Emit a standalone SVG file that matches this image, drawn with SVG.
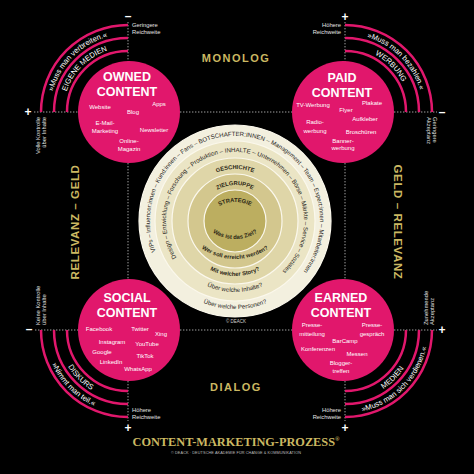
<svg xmlns="http://www.w3.org/2000/svg" width="474" height="474" viewBox="0 0 474 474">
<defs>
<style>
text{font-family:"Liberation Sans",Arial,sans-serif}
text.serif{font-family:"Liberation Serif","Times New Roman",serif}
.pink{fill:#e1176c}
.arc{fill:none;stroke:#e1176c;stroke-width:2.5}
.dot{fill:none;stroke:#a0a0a0;stroke-width:1;stroke-dasharray:1.4 1.6}
.ttl{fill:#fff;font-weight:bold;font-size:12.5px;text-anchor:middle}
.it{fill:#fff;font-size:6px;text-anchor:middle}
.side{fill:#e4e4e4;font-size:5.8px}
.sign{fill:#fff;font-size:12px;font-weight:bold;text-anchor:middle}
.band{fill:#fff;font-size:7.5px}
.gold{fill:#cbb862;font-weight:bold}
.ring{stroke:#fbf8ec;stroke-width:1.2}
.rt{fill:#26231a;font-size:6.1px}
.rh{fill:#2b2716;font-size:5.8px;font-weight:bold}
</style>
<path id="tlo" d="M50 112 A78 78 0 0 1 128 34"/>
<path id="tli" d="M63.2 112 A64.8 64.8 0 0 1 128 47.2"/>
<path id="tro" d="M345 34 A78 78 0 0 1 423 112"/>
<path id="tri" d="M345 47.2 A64.8 64.8 0 0 1 409.8 112"/>
<path id="blo" d="M44.8 330 A83.2 83.2 0 0 0 128 413.2"/>
<path id="bli" d="M57.8 330 A70.2 70.2 0 0 0 128 400.2"/>
<path id="bro" d="M345 413.2 A83.2 83.2 0 0 0 428.2 330"/>
<path id="bri" d="M345 400.2 A70.2 70.2 0 0 0 415.2 330"/>
<path id="c1" d="M155.64 251.46 A85 85 0 1 1 289.64 286.11"/>
<path id="c2" d="M176.49 257.56 A69 69 0 1 1 279.35 273.86"/>
<path id="c3" d="M183 221 A52 52 0 0 1 287 221"/>
<path id="c4" d="M199 221 A36 36 0 0 1 271 221"/>
<path id="c5" d="M203 234 A32 32 0 0 1 267 234"/>
<path id="d1" d="M147 221 A88 88 0 0 0 323 221"/>
<path id="d2" d="M164 221 A71 71 0 0 0 306 221"/>
<path id="d3" d="M180 221 A55 55 0 0 0 290 221"/>
<path id="d4" d="M177 201 A58 58 0 0 0 293 201"/>
<path id="d5" d="M194 198 A41 41 0 0 0 276 198"/>
</defs>
<rect width="474" height="474" fill="#000"/>

<g id="connectors">
<path class="dot" d="M128 22 V62 M34 112 H79 M345 22 V62 M394 112 H437 M35 330 H79 M128 381 V421 M394 330 H437 M345 381 V421 M180 112 H292 M180 330 H292 M128 163 V279 M345 163 V279"/>
</g>

<g id="arcs">
<path class="arc" d="M67 112 A61 61 0 0 1 128 51 M54 112 A74 74 0 0 1 128 38 M41 112 A87 87 0 0 1 128 25"/>
<path class="arc" d="M345 51 A61 61 0 0 1 406 112 M345 38 A74 74 0 0 1 419 112 M345 25 A87 87 0 0 1 432 112"/>
<path class="arc" d="M67 330 A61 61 0 0 0 128 391 M54 330 A74 74 0 0 0 128 404 M41 330 A87 87 0 0 0 128 417"/>
<path class="arc" d="M345 391 A61 61 0 0 0 406 330 M345 404 A74 74 0 0 0 419 330 M345 417 A87 87 0 0 0 432 330"/>
<text class="band"><textPath href="#tlo" startOffset="50%" text-anchor="middle">»Muss man verbreiten.«</textPath></text>
<text class="band"><textPath href="#tli" startOffset="50%" text-anchor="middle">EIGENE MEDIEN</textPath></text>
<text class="band"><textPath href="#tro" startOffset="50%" text-anchor="middle">»Muss man bezahlen.«</textPath></text>
<text class="band"><textPath href="#tri" startOffset="50%" text-anchor="middle">WERBUNG</textPath></text>
<text class="band"><textPath href="#blo" startOffset="50%" text-anchor="middle">»Nimmt man teil.«</textPath></text>
<text class="band"><textPath href="#bli" startOffset="50%" text-anchor="middle">DISKURS</textPath></text>
<text class="band"><textPath href="#bro" startOffset="50%" text-anchor="middle">»Muss man sich verdienen.«</textPath></text>
<text class="band"><textPath href="#bri" startOffset="50%" text-anchor="middle">MEDIEN</textPath></text>
</g>

<g id="axis-labels">
<text class="sign" x="128" y="20">–</text>
<text class="sign" x="28" y="116">+</text>
<text class="sign" x="345" y="21">+</text>
<text class="sign" x="442" y="116">–</text>
<text class="sign" x="29" y="333">–</text>
<text class="sign" x="128" y="432">+</text>
<text class="sign" x="442" y="334">+</text>
<text class="sign" x="345" y="432">+</text>
<text class="side" x="132" y="27">Geringere<tspan x="132" y="34">Reichweite</tspan></text>
<text class="side" x="341" y="27" text-anchor="end">Höhere<tspan x="341" y="34">Reichweite</tspan></text>
<text class="side" x="132" y="412">Höhere<tspan x="132" y="419">Reichweite</tspan></text>
<text class="side" x="341" y="412" text-anchor="end">Höhere<tspan x="341" y="419">Reichweite</tspan></text>
<text class="side" transform="translate(40,117) rotate(-90)" text-anchor="end"><tspan x="0" y="0">Volle Kontrolle</tspan><tspan x="0" y="6">über Inhalte</tspan></text>
<text class="side" transform="translate(40,325) rotate(-90)"><tspan x="0" y="0">Keine Kontrolle</tspan><tspan x="0" y="6">über Inhalte</tspan></text>
<text class="side" transform="translate(433,117) rotate(90)"><tspan x="0" y="0">Geringere</tspan><tspan x="0" y="6">Akzeptanz</tspan></text>
<text class="side" transform="translate(428,325) rotate(-90)"><tspan x="0" y="0">Zunehmende</tspan><tspan x="0" y="6">Akzeptanz</tspan></text>
<text class="gold" x="236" y="62" font-size="11" letter-spacing="1.5" text-anchor="middle">MONOLOG</text>
<text class="gold" x="236" y="391" font-size="11" letter-spacing="1.5" text-anchor="middle">DIALOG</text>
<text class="gold" transform="translate(79,222) rotate(-90)" font-size="11.5" letter-spacing="0.6" text-anchor="middle">RELEVANZ – GELD</text>
<text class="gold" transform="translate(394,222) rotate(90)" font-size="11.5" letter-spacing="0.6" text-anchor="middle">GELD – RELEVANZ</text>
</g>

<g id="node-owned">
<circle class="pink" cx="129" cy="112" r="51"/>
<text class="ttl" x="127" y="81">OWNED</text>
<text class="ttl" x="127" y="96">CONTENT</text>
<text class="it" x="100" y="109">Website</text>
<text class="it" x="133" y="114">Blog</text>
<text class="it" x="159" y="106">Apps</text>
<text class="it" x="105" y="125">E-Mail-</text>
<text class="it" x="105" y="133">Marketing</text>
<text class="it" x="154" y="132">Newsletter</text>
<text class="it" x="129" y="143">Online-</text>
<text class="it" x="129" y="151">Magazin</text>
</g>

<g id="node-paid">
<circle class="pink" cx="343" cy="112" r="51"/>
<text class="ttl" x="342" y="82">PAID</text>
<text class="ttl" x="342" y="97">CONTENT</text>
<text class="it" x="313" y="107">TV-Werbung</text>
<text class="it" x="346" y="112">Flyer</text>
<text class="it" x="372" y="105">Plakate</text>
<text class="it" x="315" y="124">Radio-</text>
<text class="it" x="315" y="133">werbung</text>
<text class="it" x="365" y="121">Aufkleber</text>
<text class="it" x="361" y="134">Broschüren</text>
<text class="it" x="343" y="143">Banner-</text>
<text class="it" x="343" y="150">werbung</text>
</g>

<g id="node-social">
<circle class="pink" cx="129" cy="330" r="51"/>
<text class="ttl" x="127" y="302">SOCIAL</text>
<text class="ttl" x="127" y="317">CONTENT</text>
<text class="it" x="99" y="331">Facebook</text>
<text class="it" x="140" y="331">Twitter</text>
<text class="it" x="161" y="336">Xing</text>
<text class="it" x="112" y="344">Instagram</text>
<text class="it" x="147" y="346">YouTube</text>
<text class="it" x="102" y="354">Google</text>
<text class="it" x="145" y="358">TikTok</text>
<text class="it" x="111" y="364">LinkedIn</text>
<text class="it" x="138" y="371">WhatsApp</text>
</g>

<g id="node-earned">
<circle class="pink" cx="343" cy="330" r="51"/>
<text class="ttl" x="341" y="302">EARNED</text>
<text class="ttl" x="341" y="317">CONTENT</text>
<text class="it" x="312" y="327">Presse-</text>
<text class="it" x="312" y="336">mitteilung</text>
<text class="it" x="372" y="327">Presse-</text>
<text class="it" x="372" y="336">gespräch</text>
<text class="it" x="345" y="343">BarCamp</text>
<text class="it" x="318" y="351">Konferenzen</text>
<text class="it" x="357" y="356">Messen</text>
<text class="it" x="341" y="365">Blogger-</text>
<text class="it" x="341" y="373">treffen</text>
</g>

<g id="node-center">
<circle class="ring" cx="235" cy="221" r="96" fill="#f3f0df"/>
<circle class="ring" cx="235" cy="221" r="80" fill="#ebe5c5"/>
<circle class="ring" cx="235" cy="221" r="63" fill="#dfd6a8"/>
<circle class="ring" cx="235" cy="221" r="47" fill="#d3c78e"/>
<circle class="ring" cx="235" cy="221" r="31" fill="#bcae60"/>
<text class="rt"><textPath href="#c1">VIPs – Influencer:innen – Kund:innen – Fans – BOTSCHAFTER:INNEN – Management – Team – Expert:innen – Mitarbeiter:innen</textPath></text>
<text class="rt"><textPath href="#c2">Design – Entwicklung – Forschung – Produktion – INHALTE – Unternehmen – Börse – Märkte – Service – Soziales</textPath></text>
<text class="rh"><textPath href="#c3" startOffset="50%" text-anchor="middle">GESCHICHTE</textPath></text>
<text class="rh"><textPath href="#c4" startOffset="50%" text-anchor="middle">ZIELGRUPPE</textPath></text>
<text class="rh"><textPath href="#c5" startOffset="50%" text-anchor="middle">STRATEGIE</textPath></text>
<text class="rt" font-size="6.3"><textPath href="#d1" startOffset="50%" text-anchor="middle">Über welche Personen?</textPath></text>
<text class="rt" font-size="6.3"><textPath href="#d2" startOffset="50%" text-anchor="middle">Über welche Inhalte?</textPath></text>
<text class="rh"><textPath href="#d3" startOffset="50%" text-anchor="middle">Mit welcher Story?</textPath></text>
<text class="rh" font-size="5.7"><textPath href="#d4" startOffset="50%" text-anchor="middle">Wer soll erreicht werden?</textPath></text>
<text class="rh" font-size="5.5"><textPath href="#d5" startOffset="50%" text-anchor="middle">Was ist das Ziel?</textPath></text>
<text x="236" y="323" font-size="4.5" fill="#cfcfcf" text-anchor="middle">© DEACK</text>
</g>

<g id="footer">
<text class="serif" x="236" y="446" font-weight="bold" font-size="12.3" fill="#cbb862" text-anchor="middle">CONTENT-MARKETING-PROZESS<tspan font-size="6" dy="-5">®</tspan></text>
<text x="236" y="454" font-size="3.8" fill="#bdbdbd" text-anchor="middle" letter-spacing="0.1">© DEACK · DEUTSCHE AKADEMIE FÜR CHANGE &amp; KOMMUNIKATION</text>
</g>
</svg>
